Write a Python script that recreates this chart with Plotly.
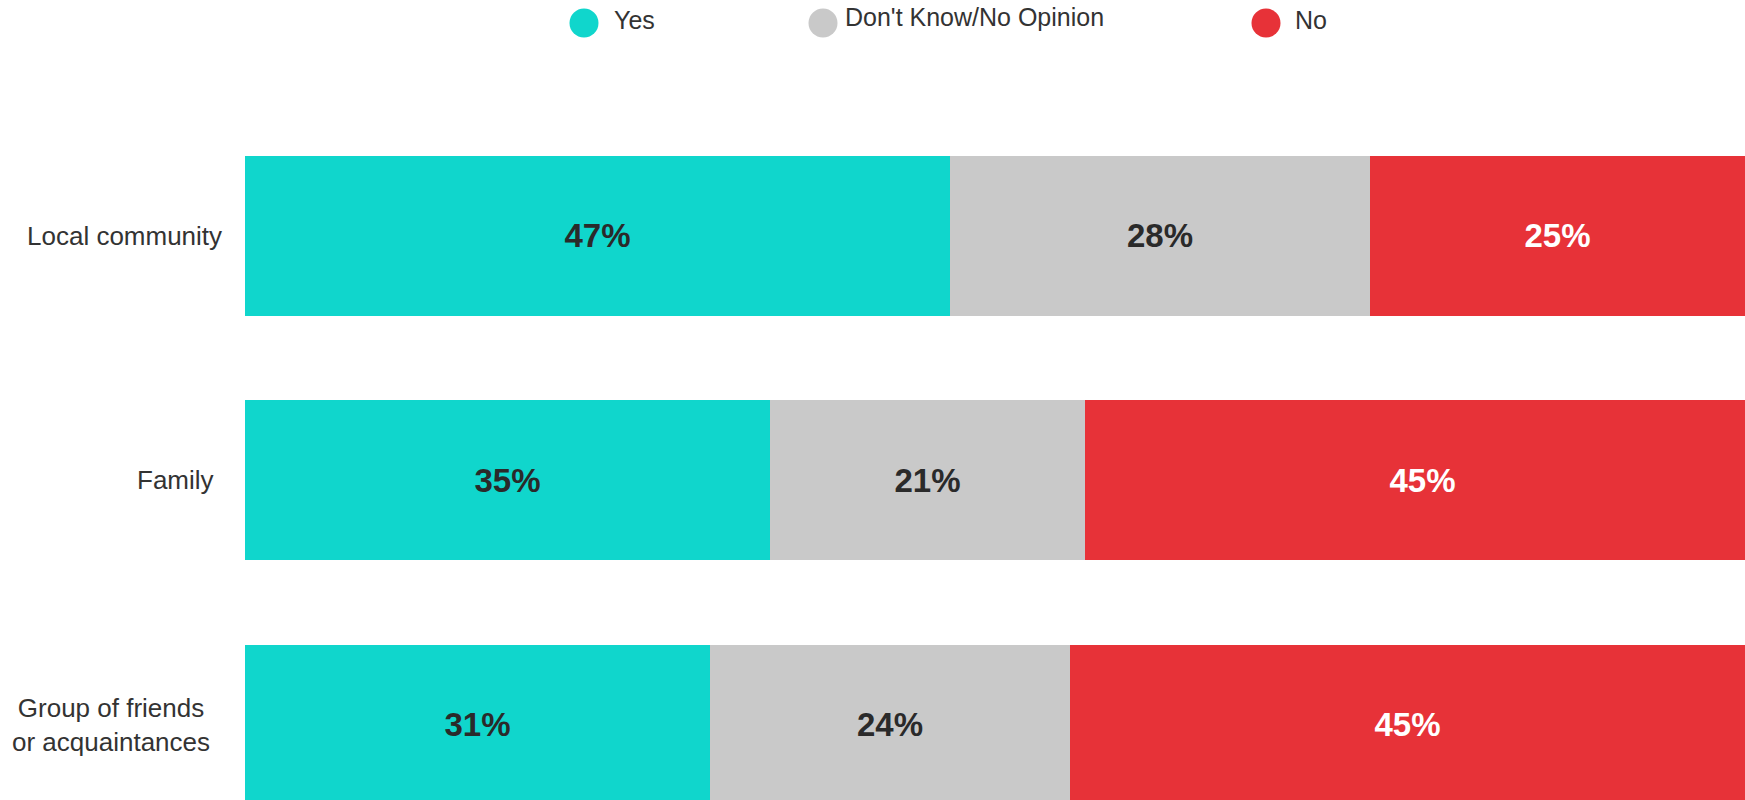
import plotly.graph_objects as go

# Survey responses by social circle (percent of respondents)
categories = ["Group of friends<br>or acquaintances", "Family", "Local community"]
yes_vals = [31, 35, 47]
dont_know_vals = [24, 21, 28]
no_vals = [45, 45, 25]

series_names = ["Yes", "Don't Know/No Opinion", "No"]
series_vals = [yes_vals, dont_know_vals, no_vals]
series_colors = ["#10D6CC", "#C9C9C9", "#E73238"]
label_colors = ["#2a2a2a", "#2a2a2a", "#ffffff"]

W, H = 1745, 800
ML = 245  # left margin holding the category labels

fig = go.Figure()

for name, vals, color, txtcolor in zip(series_names, series_vals, series_colors, label_colors):
    fig.add_trace(go.Bar(
        y=categories,
        x=vals,
        orientation="h",
        name=name,
        marker=dict(color=color, line=dict(width=0)),
        text=[f"{v}%" for v in vals],
        textposition="inside",
        insidetextanchor="middle",
        textangle=0,
        constraintext="none",
        textfont=dict(family="Liberation Sans, Arial, sans-serif", size=33,
                      color=txtcolor, weight="bold"),
        showlegend=False,
        hoverinfo="skip",
    ))


def px_to_paper_x(px):
    return (px - ML) / (W - ML)


def px_to_paper_y(py):
    return 1 - py / H


# Legend row: round swatches with labels across the top
legend_swatch_px = [584, 823, 1266]
legend_text_px = [612, 843, 1293]
legend_text_py = [20, 17, 20]
shapes = []
annotations = []
for name, color, cx, tx, ty in zip(series_names, series_colors, legend_swatch_px,
                                   legend_text_px, legend_text_py):
    shapes.append(dict(
        type="circle", xref="paper", yref="paper",
        xsizemode="pixel", ysizemode="pixel",
        xanchor=px_to_paper_x(cx), yanchor=px_to_paper_y(23),
        x0=-14.5, x1=14.5, y0=-14.5, y1=14.5,
        fillcolor=color, line=dict(width=0),
    ))
    annotations.append(dict(
        text=name, xref="paper", yref="paper",
        x=px_to_paper_x(tx), y=px_to_paper_y(ty),
        xanchor="left", yanchor="middle", showarrow=False,
        font=dict(family="Liberation Sans, Arial, sans-serif", size=25, color="#333333"),
    ))

# Category labels, lines centred within each label block
label_shift = [-33, -29, -21]
for cat, shift in zip(categories, label_shift):
    annotations.append(dict(
        text=cat, xref="paper", yref="y",
        x=0, y=cat, xanchor="right", yanchor="middle", xshift=shift,
        align="center", showarrow=False,
        font=dict(family="Liberation Sans, Arial, sans-serif", size=26, color="#333333"),
    ))

fig.update_layout(
    width=W,
    height=H,
    margin=dict(l=ML, r=0, t=0, b=0),
    paper_bgcolor="white",
    plot_bgcolor="white",
    barmode="stack",
    bargap=0.346,
    showlegend=False,
    shapes=shapes,
    annotations=annotations,
    xaxis=dict(range=[0, 100], visible=False, fixedrange=True),
    yaxis=dict(
        type="category",
        categoryorder="array",
        categoryarray=categories,
        range=[-0.307, 2.965],
        showgrid=False,
        zeroline=False,
        showline=False,
        ticks="",
        showticklabels=False,
    ),
)

fig.write_html("out.html")
